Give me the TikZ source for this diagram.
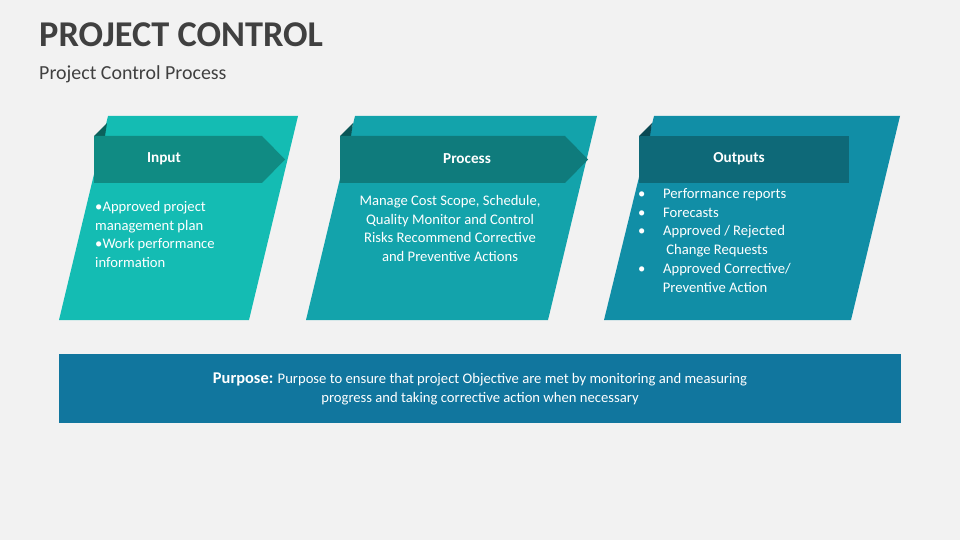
\documentclass[tikz,border=0pt]{standalone}
\usepackage{fontspec}
\setmainfont{Carlito}
\usetikzlibrary{positioning}
\definecolor{bgc}{HTML}{F2F2F2}
\definecolor{titc}{HTML}{404040}
\definecolor{pA}{HTML}{14BCB3}
\definecolor{hA}{HTML}{108B83}
\definecolor{pB}{HTML}{13A3AB}
\definecolor{hB}{HTML}{0F7B7C}
\definecolor{pC}{HTML}{118EA6}
\definecolor{hC}{HTML}{0E6978}
\definecolor{purc}{HTML}{11769E}
\tikzset{
  bodytext/.style={text=white, font=\fontsize{12.5}{16}\selectfont, align=left, anchor=north west, inner sep=0pt},
  headtext/.style={text=white, font=\bfseries\fontsize{13}{16}\selectfont},
}
\begin{document}
\begin{tikzpicture}[x=0.03cm, y=-0.03cm]
	\fill[bgc] (0,0) rectangle (960,540);
	\useasboundingbox (0,0) rectangle (960,540);
	\node[anchor=west, text=titc, font=\bfseries\fontsize{31}{34}\selectfont, inner sep=0pt] (title) at (39,35) {PROJECT CONTROL};
	\node[anchor=west, text=titc, font=\fontsize{17}{20}\selectfont, inner sep=0pt] (subtitle) at (39,74) {Project Control Process};
	% input panel
	\fill[pA] (108,116) -- (298,116) -- (249,320) -- (59,320) -- cycle;
	\fill[hA!70!black] (94,136) -- (107,123) -- (105,136) -- cycle;
	\fill[hA] (94,136) -- (262,136) -- (285,159.5) -- (262,183) -- (94,183) -- cycle;
	\node[headtext] (input) at (164,159) {Input};
	\node[bodytext] (inputtext) at (95,201) {•Approved project\\management plan\\•Work performance\\information};
	% process panel
	\fill[pB] (355,116) -- (597,116) -- (548,320) -- (306,320) -- cycle;
	\fill[hB!70!black] (340,136) -- (353,123) -- (351,136) -- cycle;
	\fill[hB] (340,136) -- (565,136) -- (588,159.5) -- (565,183) -- (340,183) -- cycle;
	\node[headtext] (process) at (467,159) {Process};
	\node[bodytext, align=center, anchor=north] (processtext) at (450,195) {Manage Cost Scope, Schedule,\\Quality Monitor and Control\\Risks Recommend Corrective\\and Preventive Actions};
	% outputs panel
	\fill[pC] (654,116) -- (900,116) -- (851,320) -- (604,320) -- cycle;
	\fill[hC!70!black] (639,136) -- (652,123) -- (650,136) -- cycle;
	\fill[hC] (639,136) rectangle (849,183);
	\node[headtext] (outputs) at (739,159) {Outputs};
	\node[bodytext] (outputstext) at (638,188) {•\hspace{15pt}Performance reports\\•\hspace{15pt}Forecasts\\•\hspace{15pt}Approved / Rejected\\\hspace{24pt}Change Requests\\•\hspace{15pt}Approved Corrective/\\\hspace{21pt}Preventive Action};
	% purpose bar
	\fill[purc] (59,354) rectangle (901,423);
	\node[bodytext, align=center, anchor=center] (purpose) at (480,389) {\textbf{\fontsize{14}{16}\selectfont Purpose:} Purpose to ensure that project Objective are met by monitoring and measuring\\progress and taking corrective action when necessary};
\end{tikzpicture}
\end{document}
